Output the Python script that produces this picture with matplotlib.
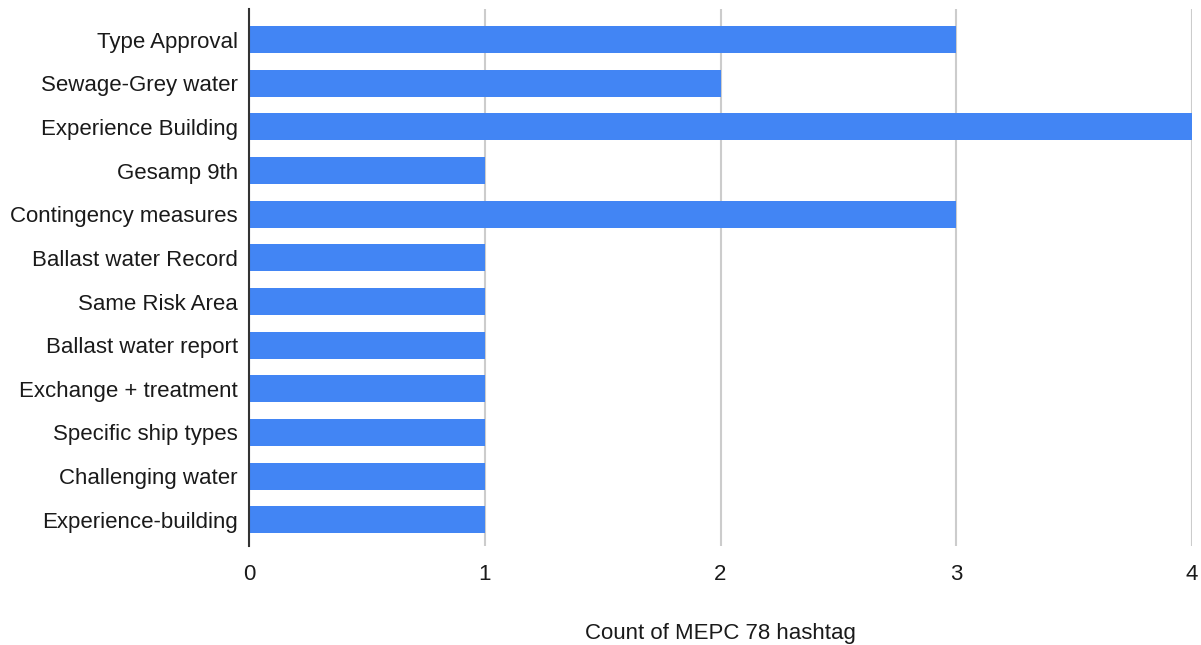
import matplotlib.pyplot as plt

# Count of MEPC 78 hashtags per topic
topics = ["Type Approval", "Sewage-Grey water", "Experience Building", "Gesamp 9th",
          "Contingency measures", "Ballast water Record", "Same Risk Area",
          "Ballast water report", "Exchange + treatment", "Specific ship types",
          "Challenging water", "Experience-building"]
counts = [3, 2, 4, 1, 3, 1, 1, 1, 1, 1, 1, 1]
x_ticks = [0, 1, 2, 3, 4]

plt.rcParams['font.family'] = ['Liberation Sans', 'DejaVu Sans']

fig = plt.figure(figsize=(12.01, 6.45), dpi=100)
W, H = 1201, 645
ax = fig.add_axes([249 / W, 1 - 546 / H, (1192 - 249) / W, (546 - 9) / H])

ypos = list(range(len(topics)))
ax.barh(ypos, counts, height=0.62, color="#4285F4", zorder=3)

ax.set_yticks(ypos)
ax.set_yticklabels(topics, fontsize=16, color="#1a1a1a")
ax.set_ylim(11.6, -0.7)
ax.set_xlim(0, 4)
ax.set_xticks(x_ticks)
ax.set_xticklabels([str(t) for t in x_ticks], fontsize=16, color="#1a1a1a")
ax.tick_params(axis='both', length=0)
ax.tick_params(axis='y', pad=8)
ax.tick_params(axis='x', pad=13)

ax.grid(axis='x', color="#cccccc", linewidth=1.5, zorder=0)
for s in ['top', 'right', 'bottom']:
    ax.spines[s].set_visible(False)
ax.spines['left'].set_color("#333333")
ax.spines['left'].set_linewidth(1.5)
ax.spines['left'].set_zorder(4)

ax.set_xlabel("Count of MEPC 78 hashtag", fontsize=16, color="#1a1a1a", labelpad=27)

fig.savefig("out.png", dpi=100)
